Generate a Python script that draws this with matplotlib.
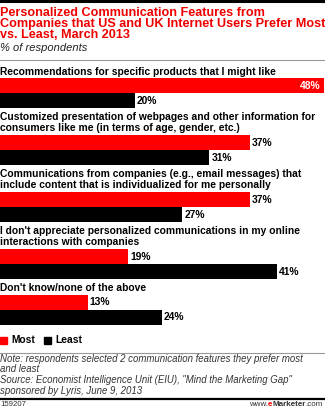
import matplotlib
matplotlib.use("Agg")
import matplotlib.pyplot as plt

W, H = 325, 409

title_lines = ["Personalized Communication Features from",
               "Companies that US and UK Internet Users Prefer Most",
               "vs. Least, March 2013"]
subtitle = "% of respondents"
categories = [
    "Recommendations for specific products that I might like",
    "Customized presentation of webpages and other information for\nconsumers like me (in terms of age, gender, etc.)",
    "Communications from companies (e.g., email messages) that\ninclude content that is individualized for me personally",
    "I don't appreciate personalized communications in my online\ninteractions with companies",
    "Don't know/none of the above",
]
most = [48, 37, 37, 19, 13]
least = [20, 31, 27, 41, 24]
series_names = ["Most", "Least"]
notes = ["Note: respondents selected 2 communication features they prefer most",
         "and least",
         "Source: Economist Intelligence Unit (EIU), \"Mind the Marketing Gap\"",
         "sponsored by Lyris, June 9, 2013"]
chart_id = "159207"

RED = "#ff0000"
BLACK = "#000000"

fig = plt.figure(figsize=(W / 100, H / 100), dpi=100)

def fy(y):
    return 1 - y / H

def fx(x):
    return x / W

# top rule
fig.add_artist(plt.Line2D([0, 1], [fy(1), fy(1)], color="black", lw=2.2))

title_font = dict(family="Liberation Sans", weight="bold", color="#ee0000", fontsize=9.1)
for i, t in enumerate(title_lines):
    fig.text(fx(0), fy(12.5 + 11.5 * i), t, va="center", ha="left", **title_font)
fig.text(fx(0), fy(48), subtitle, va="center", ha="left", style="italic",
         family="Liberation Sans", fontsize=8.0, color="#222222")

fig.add_artist(plt.Line2D([0, 1], [fy(59.5), fy(59.5)], color="#999999", lw=0.8))

# bars axis in pixel-like units
y_top, y_bot = 60, 332
ax = fig.add_axes([0, fy(y_bot), 1, (y_bot - y_top) / H])
ax.set_xlim(0, 325 / 6.75)
ax.set_ylim(y_bot, y_top)
ax.axis("off")

bar_h = 15
line_h = 11.5
cursor = 66.5
lab_font = dict(family="Liberation Sans", weight="bold", fontsize=7.35, color="black")
for cat, m, l in zip(categories, most, least):
    n = cat.count("\n") + 1
    ax.text(0, cursor + 0.3, cat, va="top", ha="left", linespacing=1.08, **lab_font)
    red_top = cursor + n * line_h
    ax.barh(red_top + bar_h / 2, m, height=bar_h, color=RED, left=0)
    ax.barh(red_top + bar_h * 1.5, l, height=bar_h, color=BLACK, left=0)
    if m >= 45:
        ax.text(m - 0.5, red_top + bar_h / 2, f"{m}%", va="center", ha="right",
                **{**lab_font, "color": "white"})
    else:
        ax.text(m + 0.3, red_top + bar_h / 2, f"{m}%", va="center", ha="left", **lab_font)
    ax.text(l + 0.3, red_top + bar_h * 1.5, f"{l}%", va="center", ha="left", **lab_font)
    cursor = red_top + 2 * bar_h + 4

# legend
leg_y = 340
fig.add_artist(plt.Rectangle((fx(0), fy(leg_y + 3.5)), fx(7), 7 / H, color=RED))
fig.text(fx(11.5), fy(leg_y), series_names[0], va="center", ha="left", **lab_font)
fig.add_artist(plt.Rectangle((fx(44), fy(leg_y + 3.5)), fx(7), 7 / H, color=BLACK))
fig.text(fx(55), fy(leg_y), series_names[1], va="center", ha="left", **lab_font)

fig.add_artist(plt.Line2D([0, 1], [fy(353), fy(353)], color="#999999", lw=0.8))

for i, t in enumerate(notes):
    fig.text(fx(0), fy(358.5 + 10.8 * i), t, va="center", ha="left", style="italic",
             family="Liberation Sans", fontsize=6.95, color="#333333")

fig.add_artist(plt.Line2D([0, 1], [fy(398.5), fy(398.5)], color="black", lw=1.6))
fig.text(fx(0), fy(404.5), chart_id, va="center", ha="left",
         family="Liberation Sans", fontsize=5.6, color="#333333")
t1 = fig.text(fx(323), fy(404.5), ".com", va="center", ha="right",
              family="Liberation Sans", fontsize=5.8, color="#333333")
fig.canvas.draw()
r = fig.canvas.get_renderer()
bb = t1.get_window_extent(r)
t2 = fig.text(bb.x0 / W, fy(404.5), "Marketer", va="center", ha="right",
              family="Liberation Sans", weight="bold", fontsize=5.8, color="#333333")
bb = t2.get_window_extent(r)
t3 = fig.text(bb.x0 / W, fy(404.5), "e", va="center", ha="right",
              family="Liberation Sans", weight="bold", fontsize=5.8, color=RED)
bb = t3.get_window_extent(r)
fig.text(bb.x0 / W, fy(404.5), "www.", va="center", ha="right",
         family="Liberation Sans", fontsize=5.8, color="#333333")

fig.savefig("out.png", dpi=100)
